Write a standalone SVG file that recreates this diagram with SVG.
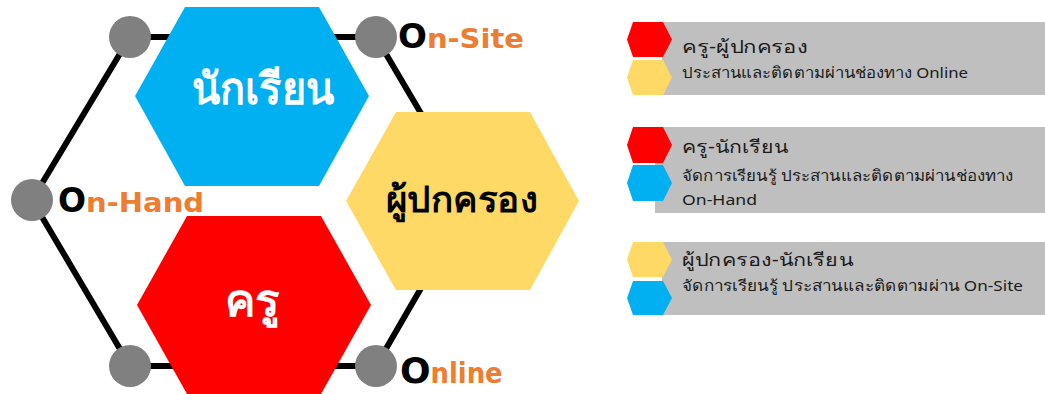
<svg xmlns="http://www.w3.org/2000/svg" width="1045" height="394" viewBox="0 0 1045 394">
<style>
.edge{fill:none;stroke:#000;stroke-width:6;stroke-linejoin:round}
.dot{fill:#808080}
.blue{fill:#00B0F0}
.red{fill:#FF0000}
.yellow{fill:#FFD966}
.panel{fill:#BFBFBF}
.big{font-family:"Noto Sans",sans-serif;font-weight:bold;text-anchor:middle}
.o{font-family:"DejaVu Sans","Liberation Sans",sans-serif;font-weight:bold;fill:#000}
.or{font-family:"DejaVu Sans","Liberation Sans",sans-serif;font-weight:bold;fill:#ED7D31}
.t1{font-family:"Noto Sans",sans-serif;font-size:18px;fill:#1a1a1a}
.t2{font-family:"Noto Sans",sans-serif;font-size:15px;fill:#1a1a1a}
</style>
<rect width="1045" height="394" fill="#fff"/>
<g id="connectors">
<polygon class="edge" points="32,200 130,37 376,37 472,200 376,366 130,366"/>
</g>
<g id="node-student">
<polygon class="blue" points="185,7 319,7 369,96 319,186 185,186 135,96"/>
<text class="big" x="263" y="104" font-size="44" fill="#fff" textLength="143" lengthAdjust="spacingAndGlyphs">นักเรียน</text>
</g>
<g id="node-parent">
<polygon class="yellow" points="396,112 530,112 579,201 530,290 396,290 346,201"/>
<text class="big" x="462" y="212" font-size="36" fill="#000" textLength="152" lengthAdjust="spacingAndGlyphs">ผู้ปกครอง</text>
</g>
<g id="node-teacher">
<polygon class="red" points="187,216 321,216 371,305 321,394 187,394 137,305"/>
<text class="big" x="252" y="316" font-size="44" fill="#fff" textLength="55" lengthAdjust="spacingAndGlyphs">ครู</text>
</g>
<g id="node-onsite">
<circle class="dot" cx="376" cy="37" r="21"/>
<text x="398" y="48"><tspan class="o" font-size="34">O</tspan><tspan class="or" font-size="26" textLength="97" lengthAdjust="spacingAndGlyphs">n-Site</tspan></text>
</g>
<g id="node-onhand">
<circle class="dot" cx="32" cy="200" r="21"/>
<text x="58" y="212"><tspan class="o" font-size="33">O</tspan><tspan class="or" font-size="26" textLength="118" lengthAdjust="spacingAndGlyphs">n-Hand</tspan></text>
</g>
<g id="node-online">
<circle class="dot" cx="376" cy="366" r="21"/>
<text x="400" y="383"><tspan class="o" font-size="36">O</tspan><tspan class="or" font-size="28" textLength="72" lengthAdjust="spacingAndGlyphs">nline</tspan></text>
</g>
<g id="node-tl">
<circle class="dot" cx="130" cy="37" r="21"/>
</g>
<g id="node-bl">
<circle class="dot" cx="130" cy="366" r="21"/>
</g>
<g id="legend-1">
<rect class="panel" x="662" y="22" width="383" height="73"/>
<polygon class="red" points="633,22 663,22 672,39.5 663,57 633,57 627,39.5"/>
<polygon class="yellow" points="633,60 663,60 672,77.5 663,95 633,95 627,77.5"/>
<text class="t1" x="682" y="53" textLength="126" lengthAdjust="spacingAndGlyphs">ครู-ผู้ปกครอง</text>
<text class="t2" x="682" y="78" textLength="286" lengthAdjust="spacingAndGlyphs">ประสานและติดตามผ่านช่องทาง Online</text>
</g>
<g id="legend-2">
<rect class="panel" x="655" y="127" width="390" height="86"/>
<polygon class="red" points="633,127 663,127 672,145 663,163 633,163 627,145"/>
<polygon class="blue" points="633,165 663,165 672,183 663,201 633,201 627,183"/>
<text class="t1" x="682" y="153" textLength="106" lengthAdjust="spacingAndGlyphs">ครู-นักเรียน</text>
<text class="t2" x="682" y="181" textLength="331" lengthAdjust="spacingAndGlyphs">จัดการเรียนรู้ ประสานและติดตามผ่านช่องทาง</text>
<text class="t2" x="682" y="205" textLength="75" lengthAdjust="spacingAndGlyphs">On-Hand</text>
</g>
<g id="legend-3">
<rect class="panel" x="662" y="242" width="383" height="73"/>
<polygon class="yellow" points="633,242 663,242 672,259.5 663,277 633,277 627,259.5"/>
<polygon class="blue" points="633,281 663,281 672,298 663,315 633,315 627,298"/>
<text class="t1" x="682" y="266" textLength="171" lengthAdjust="spacingAndGlyphs">ผู้ปกครอง-นักเรียน</text>
<text class="t2" x="682" y="291" textLength="341" lengthAdjust="spacingAndGlyphs">จัดการเรียนรู้ ประสานและติดตามผ่าน On-Site</text>
</g>
</svg>
